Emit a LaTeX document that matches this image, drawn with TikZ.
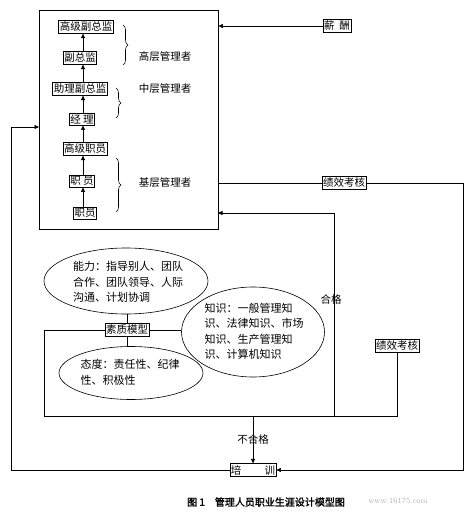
\documentclass[tikz,border=0pt]{standalone}
\usepackage{fontspec}
\newfontfamily\cjk{Noto Sans CJK SC}
\newfontfamily\cjkb[FakeBold=1.5]{Noto Sans CJK SC}
\usetikzlibrary{arrows.meta,shapes.geometric,decorations.pathreplacing}
\begin{document}
\begin{tikzpicture}[x=1pt,y=-1pt,
  every node/.style={font=\cjk\fontsize{10.5}{13}\selectfont},
  box/.style={draw, line width=0.6pt, inner xsep=1pt, inner ysep=1.5pt},
  lbl/.style={inner sep=0pt},
  ell/.style={draw, ellipse, line width=0.6pt, inner sep=0pt},
  etext/.style={inner sep=0pt, align=left, font=\cjk\fontsize{11}{15.5}\selectfont},
  line/.style={line width=0.6pt},
  arr/.style={line width=0.6pt, -{Triangle[length=4.5pt,width=4pt]}},
  brc/.style={line width=0.6pt, decorate, decoration={brace, amplitude=5pt}}]
\useasboundingbox (0,0) rectangle (470,518);
% main box
\node[draw, line width=0.8pt, minimum width=179pt, minimum height=219pt, inner sep=0pt] (main) at (128.5,119.5) {};
% hierarchy
\node[box] (n1) at (86,27) {高级副总监};
\node[box] (n2) at (80,58) {副总监};
\node[box] (n3) at (80,89) {助理副总监};
\node[box] (n4) at (82,119) {经\ 理};
\node[box] (n5) at (85,149) {高级职员};
\node[box] (n6) at (82,181) {职\ 员};
\node[box] (n7) at (85,213) {职员};
\coordinate (ax) at (83,0);
\draw[arr] (n7.north -| ax) -- (n6.south -| ax);
\draw[arr] (n6.north -| ax) -- (n5.south -| ax);
\draw[arr] (n5.north -| ax) -- (n4.south -| ax);
\draw[arr] (n4.north -| ax) -- (n3.south -| ax);
\draw[arr] (n3.north -| ax) -- (n2.south -| ax);
\draw[arr] (n2.north -| ax) -- (n1.south -| ax);
% braces
\coordinate (b1a) at (123,25); \coordinate (b1b) at (123,65);
\coordinate (b2a) at (116,88); \coordinate (b2b) at (116,118);
\coordinate (b3a) at (116,158); \coordinate (b3b) at (116,212);
\draw[brc] (b1a) -- (b1b);
\draw[brc] (b2a) -- (b2b);
\draw[brc] (b3a) -- (b3b);
\node[lbl] (g1) at (165,57) {高层管理者};
\node[lbl] (g2) at (165,89) {中层管理者};
\node[lbl] (g3) at (165,183) {基层管理者};
% right side
\node[box] (xc) at (337,26) {薪\ \ 酬};
\node[box] (jx1) at (344,183) {绩效考核};
\node[box] (jx2) at (397,346) {绩效考核};
\node[box, minimum width=44pt] (px) at (253,470) {培\hspace{2.2em}训};
\draw[arr] (xc.west) -- (xc.west -| main.east);
\draw[line] (main.east |- jx1.west) -- (jx1.west);
\coordinate (rc) at (463,470);
\draw[arr] (jx1.east) -| (rc) -- (px.east);
\coordinate (lc) at (11,470);
\coordinate (mlin) at (39,127);
\draw[arr] (px.west) -- (lc) |- (mlin);
% quality model
\node[ell, minimum width=164pt, minimum height=66pt] (nl) at (126,281) {};
\node[etext] (nlt) at (128,282) {能力：指导别人、团队\\合作、团队领导、人际\\沟通、计划协调};
\node[ell, minimum width=144pt, minimum height=53pt] (td) at (131,373) {};
\node[etext] (tdt) at (130,372.5) {态度：责任性、纪律\\性、积极性};
\node[ell, minimum width=143pt, minimum height=90pt] (zs) at (253,332) {};
\node[etext] (zst) at (254,331.5) {知识：一般管理知\\识、法律知识、市场\\知识、生产管理知\\识、计算机知识};
\node[box] (sz) at (127,330) {素质模型};
\draw[line] (nl.south -| sz.north) -- (sz.north);
\draw[line] (sz.south) -- (sz.south |- td.north);
\draw[line] (sz.east) -- (sz.east -| zs.west);
\coordinate (fbl) at (44,416);
\coordinate (fbr) at (397,416);
\draw[line] (sz.west) -| (fbl) -- (fbr) -- (jx2.south);
\coordinate (hg) at (334,416);
\coordinate (mr2) at (218,213);
\draw[arr] (hg) |- (mr2);
\node[lbl] (hgt) at (331,299) {合格};
\coordinate (bh) at (253,416);
\draw[arr] (bh) -- (px.north);
\node[lbl] (bhg) at (253,439) {不合格};
% caption
\node[lbl, font=\cjkb\fontsize{10}{12}\selectfont] (cap) at (266,502) {图 1\quad 管理人员职业生涯设计模型图};
\node[lbl, text=black!30, font=\rmfamily\fontsize{8}{10}\selectfont] (wm) at (398,501) {www.16175.com};
\end{tikzpicture}
\end{document}
